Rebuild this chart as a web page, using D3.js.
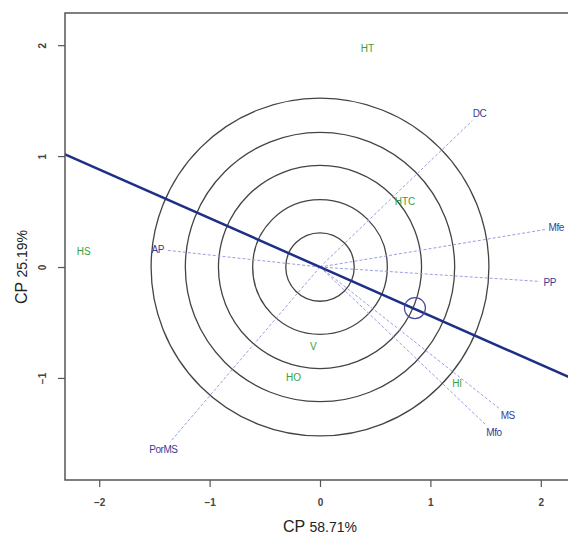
<!DOCTYPE html>
<html>
<head>
<meta charset="utf-8">
<script src="https://cdn.jsdelivr.net/npm/d3@7"></script>
<style>
  body { margin: 0; background: #fff; }
  svg { display: block; font-family: "Liberation Sans", Arial, sans-serif; }
</style>
</head>
<body>
<div class="biplot"></div>
<script>
// variables (arrows)
var varNames = ['DC', 'Mfe', 'PP', 'AP', 'MS', 'Mfo', 'PorMS'];
var varX = [1.38, 2.05, 1.99, -1.38, 1.63, 1.51, -1.36];
var varY = [1.32, 0.34, -0.13, 0.15, -1.28, -1.43, -1.58];

// observations (green labels)
var obsNames = ['HT', 'HTC', 'HS', 'V', 'HO', 'Hl'];
var obsX = [0.43, 0.77, -2.14, -0.06, -0.24, 1.24];
var obsY = [1.97, 0.59, 0.14, -0.72, -1.0, -1.05];

// concentric circles and the fitted line
var circleRadii = [0.31, 0.61, 0.92, 1.22, 1.53];
var lineSlope = -0.44;
var markerX = 0.86, markerY = -0.37;

var xTicks = [-2, -1, 0, 1, 2];
var yTicks = [-1, 0, 1, 2];

const width = 568, height = 537;
var margin = ({top: 13, right: -7, bottom: 57, left: 65});

var svg = d3.select('.biplot')
            .append('svg')
            .attr('width', width)
            .attr('height', height);

var x = d3.scaleLinear().domain([-2.31, 2.31]).range([margin.left, width - margin.right]);
var y = d3.scaleLinear().domain([-1.92, 2.29]).range([height - margin.bottom, margin.top]);

// circles
svg.selectAll('.ring')
    .data(circleRadii)
    .enter()
    .append('circle')
    .attr('class', 'ring')
    .attr('cx', x(0))
    .attr('cy', y(0))
    .attr('r', d => x(d) - x(0))
    .attr('fill', 'none')
    .attr('stroke', '#444')
    .attr('stroke-width', 1.3);

// dashed arrows
svg.selectAll('.arrow')
    .data(varNames)
    .enter()
    .append('line')
    .attr('class', 'arrow')
    .attr('x1', x(0))
    .attr('y1', y(0))
    .attr('x2', (d, i) => x(varX[i]))
    .attr('y2', (d, i) => y(varY[i]))
    .attr('stroke', '#9a9ee0')
    .attr('stroke-width', 1)
    .attr('stroke-dasharray', '3,2');

// arrow labels, pushed a bit past the tip
svg.selectAll('.varLabel')
    .data(varNames)
    .enter()
    .append('text')
    .attr('class', 'varLabel')
    .attr('x', (d, i) => {
        var dx = x(varX[i]) - x(0), dy = y(varY[i]) - y(0);
        return x(varX[i]) + 10 * dx / Math.hypot(dx, dy);
    })
    .attr('y', (d, i) => {
        var dx = x(varX[i]) - x(0), dy = y(varY[i]) - y(0);
        return y(varY[i]) + 10 * dy / Math.hypot(dx, dy);
    })
    .attr('dy', '0.35em')
    .text(d => d)
    .style('text-anchor', 'middle')
    .style('font-size', '10px')
    .style('letter-spacing', '-0.5px')
    .style('fill', '#3a3c96');

// observation labels
svg.selectAll('.obsLabel')
    .data(obsNames)
    .enter()
    .append('text')
    .attr('class', 'obsLabel')
    .attr('x', (d, i) => x(obsX[i]))
    .attr('y', (d, i) => y(obsY[i]))
    .attr('dy', '0.35em')
    .text(d => d)
    .style('text-anchor', 'middle')
    .style('font-size', '10px')
    .style('fill', '#3a9e3a');

// fitted line
var xd = x.domain();
svg.append('line')
    .attr('x1', x(xd[0]))
    .attr('y1', y(lineSlope * xd[0]))
    .attr('x2', x(xd[1]))
    .attr('y2', y(lineSlope * xd[1]))
    .attr('stroke', '#1e2f86')
    .attr('stroke-width', 2.5);

// marker circle
svg.append('circle')
    .attr('cx', x(markerX))
    .attr('cy', y(markerY))
    .attr('r', 10.5)
    .attr('fill', 'none')
    .attr('stroke', '#4a4a9a')
    .attr('stroke-width', 1.2);

// box (left, top, bottom)
svg.append('rect')
    .attr('x', margin.left)
    .attr('y', margin.top)
    .attr('width', x.range()[1] - margin.left)
    .attr('height', y.range()[0] - margin.top)
    .attr('fill', 'none')
    .attr('stroke', '#555')
    .attr('stroke-width', 1.5);

// axes
var xAxis = svg.append('g')
    .attr('transform', `translate(0, ${y.range()[0]})`)
    .call(d3.axisBottom(x).tickValues(xTicks).tickSize(7).tickPadding(12).tickFormat(d3.format('d')));
var yAxis = svg.append('g')
    .attr('transform', `translate(${margin.left}, 0)`)
    .call(d3.axisLeft(y).tickValues(yTicks).tickSize(7).tickPadding(9).tickFormat(d3.format('d')));

svg.selectAll('.domain').remove();
svg.selectAll('.tick line').attr('stroke', '#555').attr('stroke-width', 1.2);
svg.selectAll('.tick text')
    .style('font-size', '10px')
    .style('font-weight', 'bold')
    .style('font-family', '"Liberation Sans", Arial, sans-serif')
    .style('fill', '#444');
yAxis.selectAll('.tick text')
    .attr('transform', 'rotate(-90)')
    .attr('x', 0)
    .attr('y', -23)
    .attr('dy', '0.35em')
    .style('text-anchor', 'middle');

// axis titles
var xt = svg.append('text')
    .attr('x', x(0))
    .attr('y', 532)
    .style('text-anchor', 'middle')
    .style('fill', '#222');
xt.append('tspan').style('font-size', '16px').text('CP ');
xt.append('tspan').style('font-size', '14px').text('58.71%');

var yt = svg.append('text')
    .attr('transform', `translate(27, ${y(0)}) rotate(-90)`)
    .style('text-anchor', 'middle')
    .style('fill', '#222');
yt.append('tspan').style('font-size', '16px').text('CP ');
yt.append('tspan').style('font-size', '14px').text('25.19%');
</script>
</body>
</html>
